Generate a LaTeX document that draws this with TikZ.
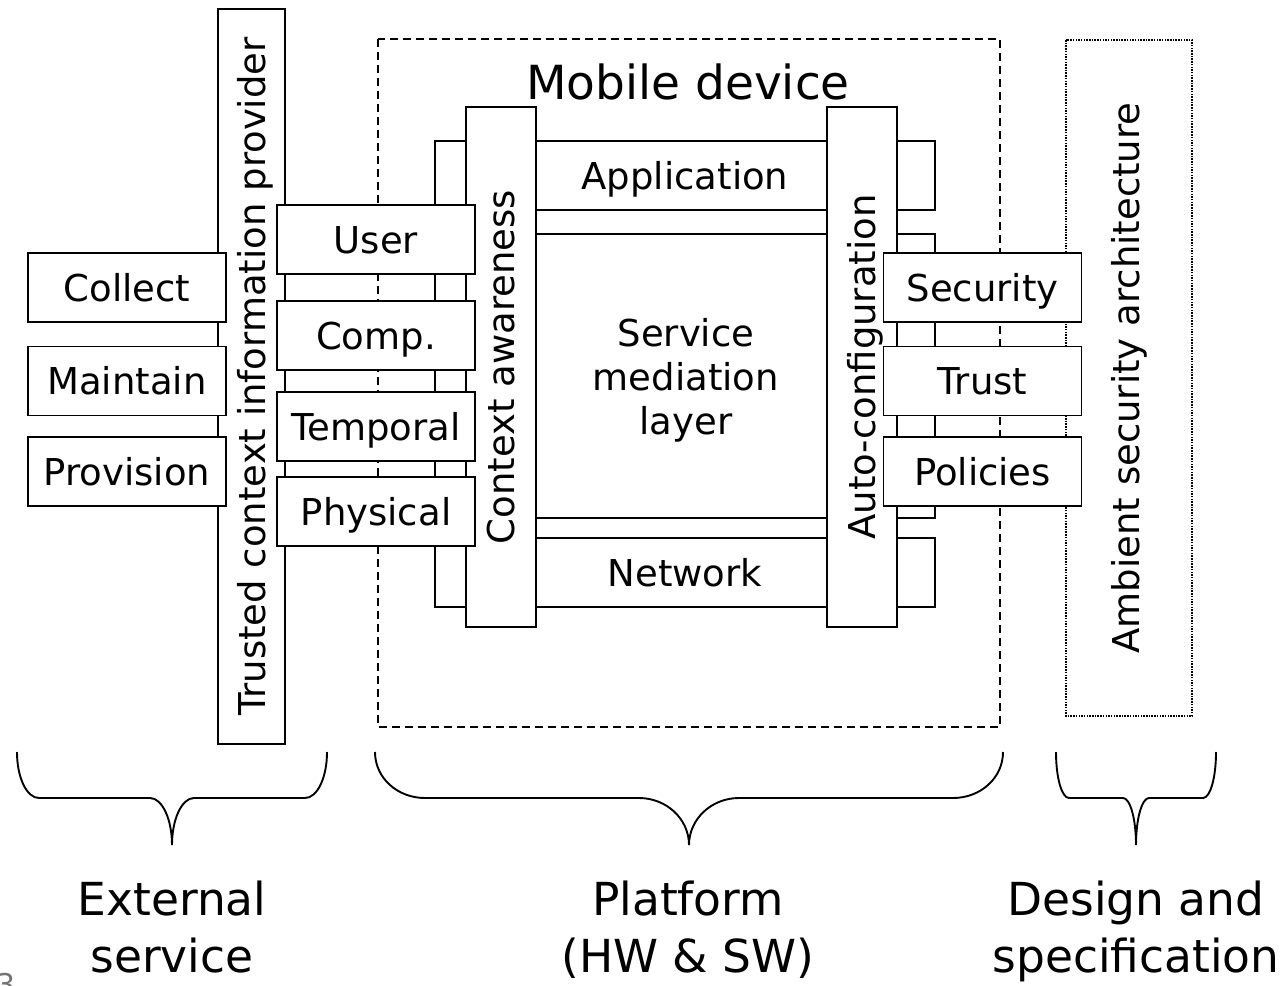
\documentclass[tikz,border=0pt]{standalone}
\usepackage{fontspec}
\setmainfont{DejaVu Sans}
\usetikzlibrary{positioning}

\tikzset{
  txt/.style={text height=35pt,text depth=7.5pt},
  box/.style={draw,fill=white,line width=1.9pt,inner sep=0pt,font=\fontsize{37}{44}\selectfont},
  hbox/.style={box,txt,minimum width=198pt,minimum height=69pt},
  tallbox/.style={box,txt,rotate=90,minimum height=70pt},
  band/.style={box,minimum width=500pt},
  big/.style={font=\fontsize{45.5}{57}\selectfont,align=center,inner sep=0pt},
}

\newcommand{\grpbrace}[3]{%
  \draw[line width=1.9pt] (#1,752) .. controls (#1,778) and ({#1+0.45*#3},798) .. ({#1+#3},798)
    -- ({(#1+#2)/2-#3},798) .. controls ({(#1+#2)/2-0.45*#3},798) and ({(#1+#2)/2},819) .. ({(#1+#2)/2},845)
    .. controls ({(#1+#2)/2},819) and ({(#1+#2)/2+0.45*#3},798) .. ({(#1+#2)/2+#3},798)
    -- ({#2-#3},798) .. controls ({#2-0.45*#3},798) and (#2,778) .. (#2,752);}

\begin{document}
\begin{tikzpicture}[x=1pt,y=-1pt]
\useasboundingbox (0,0) rectangle (1287,985);

\draw[line width=1.5pt,dash pattern=on 8pt off 5pt] (378,39) rectangle (1000,727);
\node[big,font=\fontsize{47}{57}\selectfont] (mobile) at (688,82) {Mobile device};
\node[draw,line width=1.5pt,dash pattern=on 1.5pt off 1.2pt,rotate=90,minimum width=676pt,minimum height=126pt,
  font=\fontsize{37}{44}\selectfont] (ambient) at (1129,378) {Ambient security architecture};

\node[tallbox,minimum width=735pt,minimum height=67pt] (trusted) at (251.5,376.5) {Trusted context information provider};
\node[hbox] (collect) at (127,287.5) {Collect};
\node[hbox] (maintain) at (127,381) {Maintain};
\node[hbox] (provision) at (127,471.5) {Provision};

\node[band,txt,minimum height=69pt] (app) at (685,175.5) {Application};
\node[band,minimum height=284pt] (mediation) at (685,376) {};
\node[band,txt,minimum height=69pt] (network) at (685,572.5) {Network};
\node[font=\fontsize{37}{44}\selectfont,align=center] (medtext) at (686,380) {Service\\mediation\\layer};

\node[tallbox,minimum width=520pt] (context) at (501,367) {Context awareness};
\node[tallbox,minimum width=520pt] (autoconf) at (862,367) {Auto-configuration};

\node[hbox] (user) at (376,239.5) {User};
\node[hbox] (comp) at (376,335.5) {Comp.};
\node[hbox] (temporal) at (376,426.5) {Temporal};
\node[hbox] (physical) at (376,511.5) {Physical};

\node[hbox] (security) at (982.5,287.5) {Security};
\node[hbox] (trust) at (982.5,381) {Trust};
\node[hbox] (policies) at (982.5,471.5) {Policies};

\grpbrace{17}{327}{22}
\grpbrace{375}{1003}{50}
\grpbrace{1056}{1216}{13}

\node[big,anchor=north] (external) at (172,881) {External\\service};
\node[big,anchor=north] (platform) at (688,881) {Platform\\(HW \& SW)};
\node[big,anchor=north] (design) at (1136,881) {Design and\\specification};

\node[text=black!55,font=\fontsize{30}{30}\selectfont,anchor=base west,inner sep=0pt] (pagenum) at (-4,995) {3};
\end{tikzpicture}
\end{document}
